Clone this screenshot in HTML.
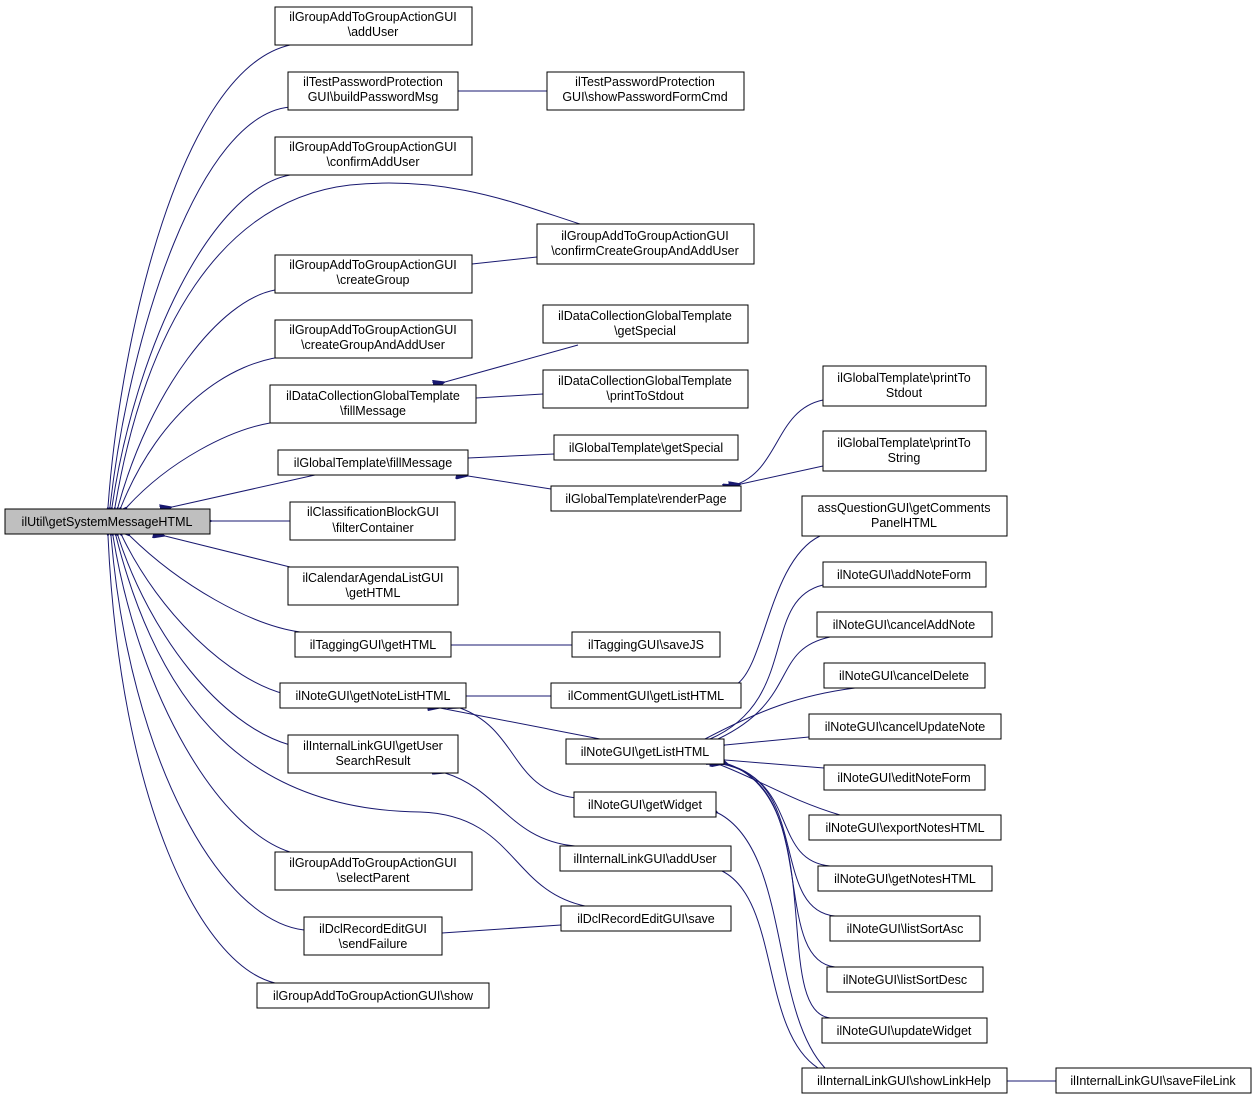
<!DOCTYPE html>
<html><head><meta charset="utf-8"><style>
html,body{margin:0;padding:0;background:#fff;}
svg{display:block;}
text{font-family:"Liberation Sans",Helvetica,sans-serif;font-size:12.5px;fill:#000;text-anchor:middle;}
rect{fill:#fff;stroke:#000;stroke-width:1;}
path{fill:none;stroke:#191970;stroke-width:1;}
</style></head><body>
<svg width="1257" height="1101" viewBox="0 0 1257 1101" xmlns="http://www.w3.org/2000/svg">
<defs>
<marker id="a" viewBox="0 0 12 10" refX="0" refY="5" markerWidth="12" markerHeight="10" markerUnits="userSpaceOnUse" orient="auto-start-reverse">
<path d="M0,5 L12,0 L12,10 Z" style="fill:#191970;stroke:#191970"/>
</marker>
</defs>
<g marker-start="url(#a)">
<!-- root edges -->
<path d="M108,507 C120,340 180,70 290,45"/>
<path d="M110,507 C130,330 200,115 290,107"/>
<path d="M112,507 C135,350 210,190 290,175"/>
<path d="M115,507 C145,330 220,200 350,185 C450,175 520,205 580,224"/>
<path d="M118,507 C150,390 220,300 275,290"/>
<path d="M121,507 C160,410 230,360 290,356"/>
<path d="M127,507 C170,460 230,430 270,423"/>
<path d="M172,507 L315,475"/>
<path d="M212,521 L290,521"/>
<path d="M165,536 L290,567"/>
<path d="M130,536 C180,585 250,625 300,632"/>
<path d="M122,536 C160,615 230,680 285,694"/>
<path d="M118,536 C150,635 220,725 290,745"/>
<path d="M116,536 C160,710 250,810 420,812 C515,815 510,890 585,906"/>
<path d="M113,536 C140,700 220,830 290,852"/>
<path d="M111,536 C130,760 220,920 304,930"/>
<path d="M108,536 C120,800 200,965 275,983"/>
<!-- others -->
<path d="M458,91 L547,91"/>
<path d="M472,264 L537,257"/>
<path d="M445,382 L578,345"/>
<path d="M476,398 L543,394"/>
<path d="M468,458 L554,454"/>
<path d="M468,476 L551,489"/>
<path d="M735,485 C780,470 775,410 823,400"/>
<path d="M741,484 L823,466"/>
<path d="M451,645 L572,645"/>
<path d="M466,696 L551,696"/>
<path d="M440,708 L600,739"/>
<path d="M460,708 C520,730 510,790 576,798"/>
<path d="M445,773 C500,790 510,840 575,846"/>
<path d="M442,933 L561,925"/>
<path d="M737,684 C765,665 770,560 820,536"/>
<path d="M710,739 C800,700 760,600 823,585"/>
<path d="M718,739 C800,700 770,650 830,637"/>
<path d="M705,739 C760,710 800,695 855,688"/>
<path d="M725,745 L809,737"/>
<path d="M725,760 L824,768"/>
<path d="M718,764 C760,780 790,800 840,815"/>
<path d="M722,764 C800,780 770,860 830,866"/>
<path d="M724,764 C810,780 770,910 835,916"/>
<path d="M726,764 C820,790 770,960 835,967"/>
<path d="M728,764 C830,800 770,1010 830,1018"/>
<path d="M718,813 C790,850 770,1010 825,1068"/>
<path d="M722,871 C780,900 760,1030 818,1068"/>
<path d="M1007,1081 L1056,1081"/>
</g>
<!-- root -->
<rect x="5" y="509" width="205" height="25" style="fill:#bfbfbf"/>
<text x="107" y="526">ilUtil\getSystemMessageHTML</text>
<!-- column 2 -->
<rect x="275" y="7" width="197" height="38"/><text x="373" y="21">ilGroupAddToGroupActionGUI</text><text x="373" y="36">\addUser</text>
<rect x="288" y="72" width="170" height="38"/><text x="373" y="86">ilTestPasswordProtection</text><text x="373" y="101">GUI\buildPasswordMsg</text>
<rect x="275" y="137" width="197" height="38"/><text x="373" y="151">ilGroupAddToGroupActionGUI</text><text x="373" y="166">\confirmAddUser</text>
<rect x="275" y="255" width="197" height="38"/><text x="373" y="269">ilGroupAddToGroupActionGUI</text><text x="373" y="284">\createGroup</text>
<rect x="275" y="320" width="197" height="38"/><text x="373" y="334">ilGroupAddToGroupActionGUI</text><text x="373" y="349">\createGroupAndAddUser</text>
<rect x="270" y="385" width="206" height="38"/><text x="373" y="400">ilDataCollectionGlobalTemplate</text><text x="373" y="415">\fillMessage</text>
<rect x="278" y="450" width="190" height="25"/><text x="373" y="467">ilGlobalTemplate\fillMessage</text>
<rect x="290" y="502" width="165" height="38"/><text x="373" y="516">ilClassificationBlockGUI</text><text x="373" y="532">\filterContainer</text>
<rect x="288" y="567" width="170" height="38"/><text x="373" y="582">ilCalendarAgendaListGUI</text><text x="373" y="597">\getHTML</text>
<rect x="295" y="632" width="156" height="25"/><text x="373" y="649">ilTaggingGUI\getHTML</text>
<rect x="280" y="683" width="186" height="25"/><text x="373" y="700">ilNoteGUI\getNoteListHTML</text>
<rect x="288" y="735" width="170" height="38"/><text x="373" y="750">ilInternalLinkGUI\getUser</text><text x="373" y="765">SearchResult</text>
<rect x="275" y="852" width="197" height="38"/><text x="373" y="867">ilGroupAddToGroupActionGUI</text><text x="373" y="882">\selectParent</text>
<rect x="304" y="917" width="138" height="38"/><text x="373" y="933">ilDclRecordEditGUI</text><text x="373" y="948">\sendFailure</text>
<rect x="257" y="983" width="232" height="25"/><text x="373" y="1000">ilGroupAddToGroupActionGUI\show</text>
<!-- column 3 -->
<rect x="547" y="72" width="197" height="38"/><text x="645" y="86">ilTestPasswordProtection</text><text x="645" y="101">GUI\showPasswordFormCmd</text>
<rect x="537" y="224" width="217" height="40"/><text x="645" y="240">ilGroupAddToGroupActionGUI</text><text x="645" y="255">\confirmCreateGroupAndAddUser</text>
<rect x="543" y="305" width="205" height="38"/><text x="645" y="320">ilDataCollectionGlobalTemplate</text><text x="645" y="335">\getSpecial</text>
<rect x="543" y="370" width="205" height="38"/><text x="645" y="385">ilDataCollectionGlobalTemplate</text><text x="645" y="400">\printToStdout</text>
<rect x="554" y="435" width="184" height="25"/><text x="646" y="452">ilGlobalTemplate\getSpecial</text>
<rect x="551" y="486" width="190" height="25"/><text x="646" y="503">ilGlobalTemplate\renderPage</text>
<rect x="572" y="632" width="148" height="25"/><text x="646" y="649">ilTaggingGUI\saveJS</text>
<rect x="551" y="683" width="190" height="25"/><text x="646" y="700">ilCommentGUI\getListHTML</text>
<rect x="566" y="739" width="158" height="25"/><text x="645" y="756">ilNoteGUI\getListHTML</text>
<rect x="574" y="792" width="142" height="25"/><text x="645" y="809">ilNoteGUI\getWidget</text>
<rect x="560" y="846" width="171" height="25"/><text x="645" y="863">ilInternalLinkGUI\addUser</text>
<rect x="561" y="906" width="170" height="25"/><text x="646" y="923">ilDclRecordEditGUI\save</text>
<!-- column 4 -->
<rect x="823" y="366" width="163" height="40"/><text x="904" y="382">ilGlobalTemplate\printTo</text><text x="904" y="397">Stdout</text>
<rect x="823" y="431" width="163" height="40"/><text x="904" y="447">ilGlobalTemplate\printTo</text><text x="904" y="462">String</text>
<rect x="802" y="496" width="205" height="40"/><text x="904" y="512">assQuestionGUI\getComments</text><text x="904" y="527">PanelHTML</text>
<rect x="823" y="562" width="163" height="25"/><text x="904" y="579">ilNoteGUI\addNoteForm</text>
<rect x="817" y="612" width="175" height="25"/><text x="904" y="629">ilNoteGUI\cancelAddNote</text>
<rect x="824" y="663" width="161" height="25"/><text x="904" y="680">ilNoteGUI\cancelDelete</text>
<rect x="809" y="714" width="192" height="25"/><text x="905" y="731">ilNoteGUI\cancelUpdateNote</text>
<rect x="824" y="765" width="161" height="25"/><text x="904" y="782">ilNoteGUI\editNoteForm</text>
<rect x="809" y="815" width="192" height="25"/><text x="905" y="832">ilNoteGUI\exportNotesHTML</text>
<rect x="818" y="866" width="174" height="25"/><text x="905" y="883">ilNoteGUI\getNotesHTML</text>
<rect x="830" y="916" width="150" height="25"/><text x="905" y="933">ilNoteGUI\listSortAsc</text>
<rect x="827" y="967" width="156" height="25"/><text x="905" y="984">ilNoteGUI\listSortDesc</text>
<rect x="822" y="1018" width="165" height="25"/><text x="904" y="1035">ilNoteGUI\updateWidget</text>
<rect x="802" y="1068" width="205" height="25"/><text x="904" y="1085">ilInternalLinkGUI\showLinkHelp</text>
<rect x="1056" y="1068" width="195" height="25"/><text x="1153" y="1085">ilInternalLinkGUI\saveFileLink</text>
</svg>
</body></html>
